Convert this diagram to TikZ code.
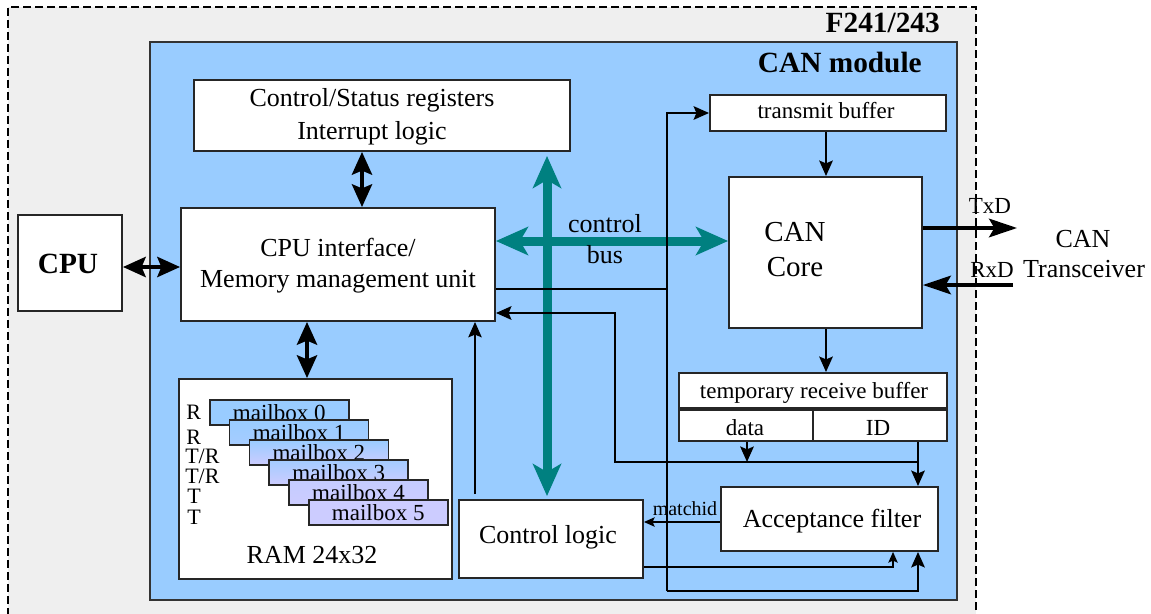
\documentclass[tikz,border=0pt]{standalone}
\usepackage{fontspec}
\setmainfont{Liberation Serif}
\usetikzlibrary{arrows.meta,fit,calc}

\definecolor{modblue}{HTML}{99CCFF}
\definecolor{lavender}{HTML}{CCCCFF}
\definecolor{busteal}{HTML}{008080}
\definecolor{chipgrey}{HTML}{EFEFEF}

\begin{document}
\begin{tikzpicture}[
  x=0.75pt, y=-0.75pt,
  box/.style={draw=black!85, line width=1.4pt, fill=white, inner sep=0pt},
  mbox/.style={draw=black!85, line width=1.2pt, inner sep=0pt, anchor=north west,
    minimum width=104.25pt, minimum height=18.75pt, font=\fsz{17.25}},
  txt/.style={inner sep=0pt, anchor=base, font=\fsz{19.5}},
  txtsmall/.style={inner sep=0pt, anchor=base, font=\fsz{17.25}},
  txtbold/.style={inner sep=0pt, font=\bfseries\fsz{22}},
  wire/.style={line width=2.2pt},
  medwire/.style={line width=1.7pt},
  thinwire/.style={line width=1.2pt},
  arrM/.style={-{Stealth[length=11.5pt,width=10pt,inset=2pt]}},
  arrS/.style={-{Stealth[length=8pt,width=7pt,inset=1.5pt]}},
  arrL/.style={-{Stealth[length=21pt,width=14pt,inset=4pt]}},
  dblbig/.style={line width=3.2pt,
    {Stealth[length=17pt,width=15pt,inset=3pt]}-{Stealth[length=17pt,width=15pt,inset=3pt]}},
  busarrow/.style={draw=busteal, line width=6.75pt,
    {Stealth[length=24pt,width=21pt,inset=6pt]}-{Stealth[length=24pt,width=21pt,inset=6pt]}},
]
\providecommand\fsz[1]{\fontsize{#1}{1.2\dimexpr#1pt\relax}\selectfont}
\useasboundingbox (0,0) rectangle (1151,613);

% device outline
\node[fit={(8,7) (976,650)}, inner sep=0pt, draw=black, fill=chipgrey,
      line width=1.5pt, dash pattern=on 6pt off 3pt] (chip) {};
\node[txtbold, anchor=base east] (chipname) at (940,33) {F241/243};

% CAN module
\node[fit={(150,42) (957,600)}, inner sep=0pt, draw=black!80, fill=modblue,
      line width=1.5pt] (canmod) {};
\node[txtbold, anchor=base east] (modname) at (922,73) {CAN module};

% CPU
\node[box, fit={(18,215) (122,311)}] (cpu) {};
\node[txtbold, anchor=base] (cputxt) at (68,273) {CPU};

% register block
\node[box, fit={(194,80) (570,151)}] (csr) {};
\node[txt] (csr1) at (372,107) {Control/Status registers};
\node[txt] (csr2) at (372,139) {Interrupt logic};

% CPU interface
\node[box, fit={(181,208) (495,321)}] (cpuif) {};
\node[txt] (cpuif1) at (338,256) {CPU interface/};
\node[txt] (cpuif2) at (338,287) {Memory management unit};

% RAM with mailboxes
\node[box, fit={(179,379) (452,579)}] (ram) {};
\node[txt] (ramtxt) at (312,563) {RAM 24x32};

\node[mbox, fill=modblue] (mb0) at (209,399) {mailbox 0};
\node[mbox, top color=modblue, bottom color=modblue!75!lavender] (mb1) at (228.8,419) {mailbox 1};
\node[mbox, top color=modblue, bottom color=lavender] (mb2) at (248.6,439) {mailbox 2};
\node[mbox, top color=modblue!80!lavender, bottom color=lavender] (mb3) at (268.4,459) {mailbox 3};
\node[mbox, top color=lavender!85!modblue, bottom color=lavender] (mb4) at (288.2,479) {mailbox 4};
\node[mbox, fill=lavender] (mb5) at (308,499) {mailbox 5};

\node[txtsmall, anchor=base west, font=\fsz{16.5}] (dir0) at (186,419) {R};
\node[txtsmall, anchor=base west, font=\fsz{16.5}] (dir1) at (186,444) {R};
\node[txtsmall, anchor=base west, font=\fsz{16.5}] (dir2) at (185,463) {T/R};
\node[txtsmall, anchor=base west, font=\fsz{16.5}] (dir3) at (185,483) {T/R};
\node[txtsmall, anchor=base west, font=\fsz{16.5}] (dir4) at (187,503) {T};
\node[txtsmall, anchor=base west, font=\fsz{16.5}] (dir5) at (187,524) {T};

% control logic and acceptance filter
\node[box, fit={(459,500) (643,578)}] (ctl) {};
\node[txt] (ctltxt) at (548,543) {Control logic};
\node[box, fit={(721,487) (938,551)}] (acc) {};
\node[txt] (acctxt) at (832,527) {Acceptance filter};

% buffers and CAN core
\node[box, fit={(710,95) (946,131)}] (tx) {};
\node[txtsmall] (txtxt) at (826,119) {transmit buffer};
\node[box, fit={(729,177) (922,328)}] (core) {};
\node[txt, font=\fsz{21.75}] (core1) at (795,241) {CAN};
\node[txt, font=\fsz{21.75}] (core2) at (795,276) {Core};
\node[box, fit={(679,373) (947,408)}] (rxbuf) {};
\node[txtsmall] (rxtxt) at (814,398) {temporary receive buffer};
\node[box, fit={(679,410) (813,441)}] (data) {};
\node[txtsmall] (datatxt) at (745,435) {data};
\node[box, fit={(813,410) (947,441)}] (id) {};
\node[txtsmall] (idtxt) at (878,435) {ID};

% transceiver side
\node[txt] (trx1) at (1083,247) {CAN};
\node[txt] (trx2) at (1084,277) {Transceiver};
\coordinate (txend) at (1017,228);
\coordinate (rxstart) at (1013,285);

% control bus
\draw[busarrow] (cpuif.east |- 0,241) -- (core.west |- 0,241);
\draw[busarrow] ($(547,0 |- csr.south)+(0,4)$) -- ($(547,0 |- ctl.north)+(0,-3)$);
\node[txt] (bus1) at (605,232) {control};
\node[txt] (bus2) at (605,263) {bus};

% bidirectional links
\draw[dblbig] ($(cpu.east)+(0,4)$) -- ($(cpuif.west |- cpu.east)+(0,4)$);
\draw[dblbig] (362,0 |- csr.south) -- (362,0 |- cpuif.north);
\draw[dblbig] (307,0 |- cpuif.south) -- (307,0 |- ram.north);

% transmit path
\coordinate (busL) at (667,591);
\draw[wire] (cpuif.east |- 0,289) -- (busL |- 0,289);
\draw[wire, arrM] (busL) -- (busL |- tx.west) -- (tx.west);
\draw[wire, arrM] (busL) -| (918,0 |- acc.south);
\draw[wire, arrM] (826,0 |- tx.south) -- (826,0 |- core.north);
\draw[wire, arrM] (826,0 |- core.south) -- (826,0 |- rxbuf.north);

% receive path
\coordinate (rxL) at (615,462);
\coordinate (rxR) at (918,462);
\draw[wire, arrM] (rxR) -- (rxL) -- (rxL |- 0,313) -- (cpuif.east |- 0,313);
\draw[wire, arrM] (747,0 |- data.south) -- (747,0 |- rxL);
\draw[wire, arrM] (918,0 |- id.south) -- (918,0 |- acc.north);

% control logic links
\draw[medwire, arrM] ($(475,0 |- ctl.north)+(0,-5)$) -- (475,0 |- cpuif.south);
\draw[thinwire, arrS] (acc.west |- 0,522) -- (ctl.east |- 0,522);
\node[txt, font=\fsz{15}] (matchid) at (685,515) {matchid};
\draw[thinwire, arrS] (ctl.east |- 0,567) -| (893,0 |- acc.south);

% TxD / RxD
\draw[line width=2.3pt, arrL] (core.east |- txend) -- (txend);
\draw[line width=2.3pt, arrL] (rxstart) -- (core.east |- rxstart);
\node[txtsmall] (txd) at (990,213) {TxD};
\node[txtsmall] (rxd) at (992,277) {RxD};
\end{tikzpicture}
\end{document}
